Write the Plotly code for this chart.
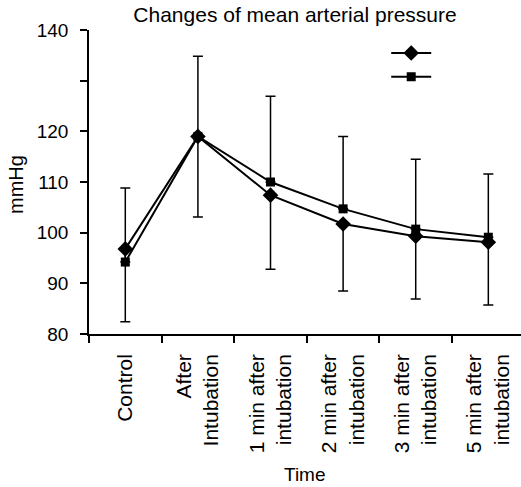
import plotly.graph_objects as go

categories = ["Control", "After<br>Intubation", "1 min after<br>intubation",
              "2 min after<br>intubation", "3 min after<br>intubation", "5 min after<br>intubation"]
diamond_mean = [96.8, 119.0, 107.4, 101.7, 99.3, 98.1]
diamond_sd = [14.4, 15.9, 14.6, 13.2, 12.4, 12.4]
square_mean = [94.2, 119.0, 110.0, 104.7, 100.7, 99.1]
square_sd = [14.6, 15.8, 16.9, 14.3, 13.8, 12.5]
y_ticks = [80, 90, 100, 110, 120, 130, 140]
y_labels = ["80", "90", "100", "110", "120", "", "140"]

xs = list(range(len(categories)))
FONT = "Liberation Sans, Arial, sans-serif"

W, H = 521, 487
ML, MT, MB = 89, 30, 153
PW, PH = W - ML, H - MT - MB
BOTTOM = H - MB  # pixel row of the x axis

fig = go.Figure()
fig.add_trace(go.Scatter(
    x=xs, y=square_mean, name=" ", mode="lines+markers",
    line=dict(color="black", width=2),
    marker=dict(symbol="square", size=9, color="black"),
    error_y=dict(type="data", symmetric=False, array=square_sd,
                 arrayminus=[0] * len(xs), color="black", thickness=1.5, width=5),
))
fig.add_trace(go.Scatter(
    x=xs, y=diamond_mean, name=" ", mode="lines+markers",
    line=dict(color="black", width=2),
    marker=dict(symbol="diamond", size=12, color="black"),
    error_y=dict(type="data", symmetric=False, array=[0] * len(xs),
                 arrayminus=diamond_sd, color="black", thickness=1.5, width=5),
))

fig.update_layout(
    width=W, height=H,
    margin=dict(l=ML, r=0, t=MT, b=MB, autoexpand=False),
    paper_bgcolor="white", plot_bgcolor="white",
    font=dict(family=FONT, size=20, color="black"),
    title=dict(text="Changes of mean arterial pressure", x=295 / W, xanchor="center",
               y=1 - 15 / H, yanchor="middle", font=dict(size=21)),
    showlegend=True,
    legend=dict(x=0.688, y=0.98, xanchor="left", yanchor="top",
                bgcolor="rgba(0,0,0,0)", font=dict(size=16),
                traceorder="reversed", itemwidth=40),
    xaxis=dict(
        range=[-0.5, 5.45], tickmode="array", tickvals=xs, ticktext=categories,
        tickangle=-90, ticks="", showline=True, linecolor="black", linewidth=1.5,
        showgrid=False, zeroline=False, ticklabelstandoff=10,
        tickfont=dict(size=21),
        minor=dict(tickmode="array", tickvals=[i + 0.5 for i in range(-1, 6)],
                   ticks="outside", ticklen=7, tickcolor="black", tickwidth=1.5,
                   showgrid=False),
    ),
    yaxis=dict(
        range=[80, 140], tickmode="array", tickvals=y_ticks, ticktext=y_labels,
        ticks="outside", ticklen=7, tickwidth=1.5, tickcolor="black",
        showline=True, linecolor="black", linewidth=1.5, showgrid=False,
        zeroline=False, ticklabelstandoff=8, tickfont=dict(size=19),
    ),
    annotations=[
        dict(text="mmHg", xref="paper", yref="paper",
             x=(16 - ML) / PW, y=(BOTTOM - 185) / PH,
             showarrow=False, textangle=-90, font=dict(size=20),
             xanchor="center", yanchor="middle"),
        dict(text="Time", xref="paper", yref="paper",
             x=(305 - ML) / PW, y=(BOTTOM - 474) / PH, showarrow=False,
             font=dict(size=19), xanchor="center", yanchor="middle"),
    ],
)

fig.write_html("out.html", config={"displayModeBar": False},
               post_script="document.body.style.margin='0px';")
